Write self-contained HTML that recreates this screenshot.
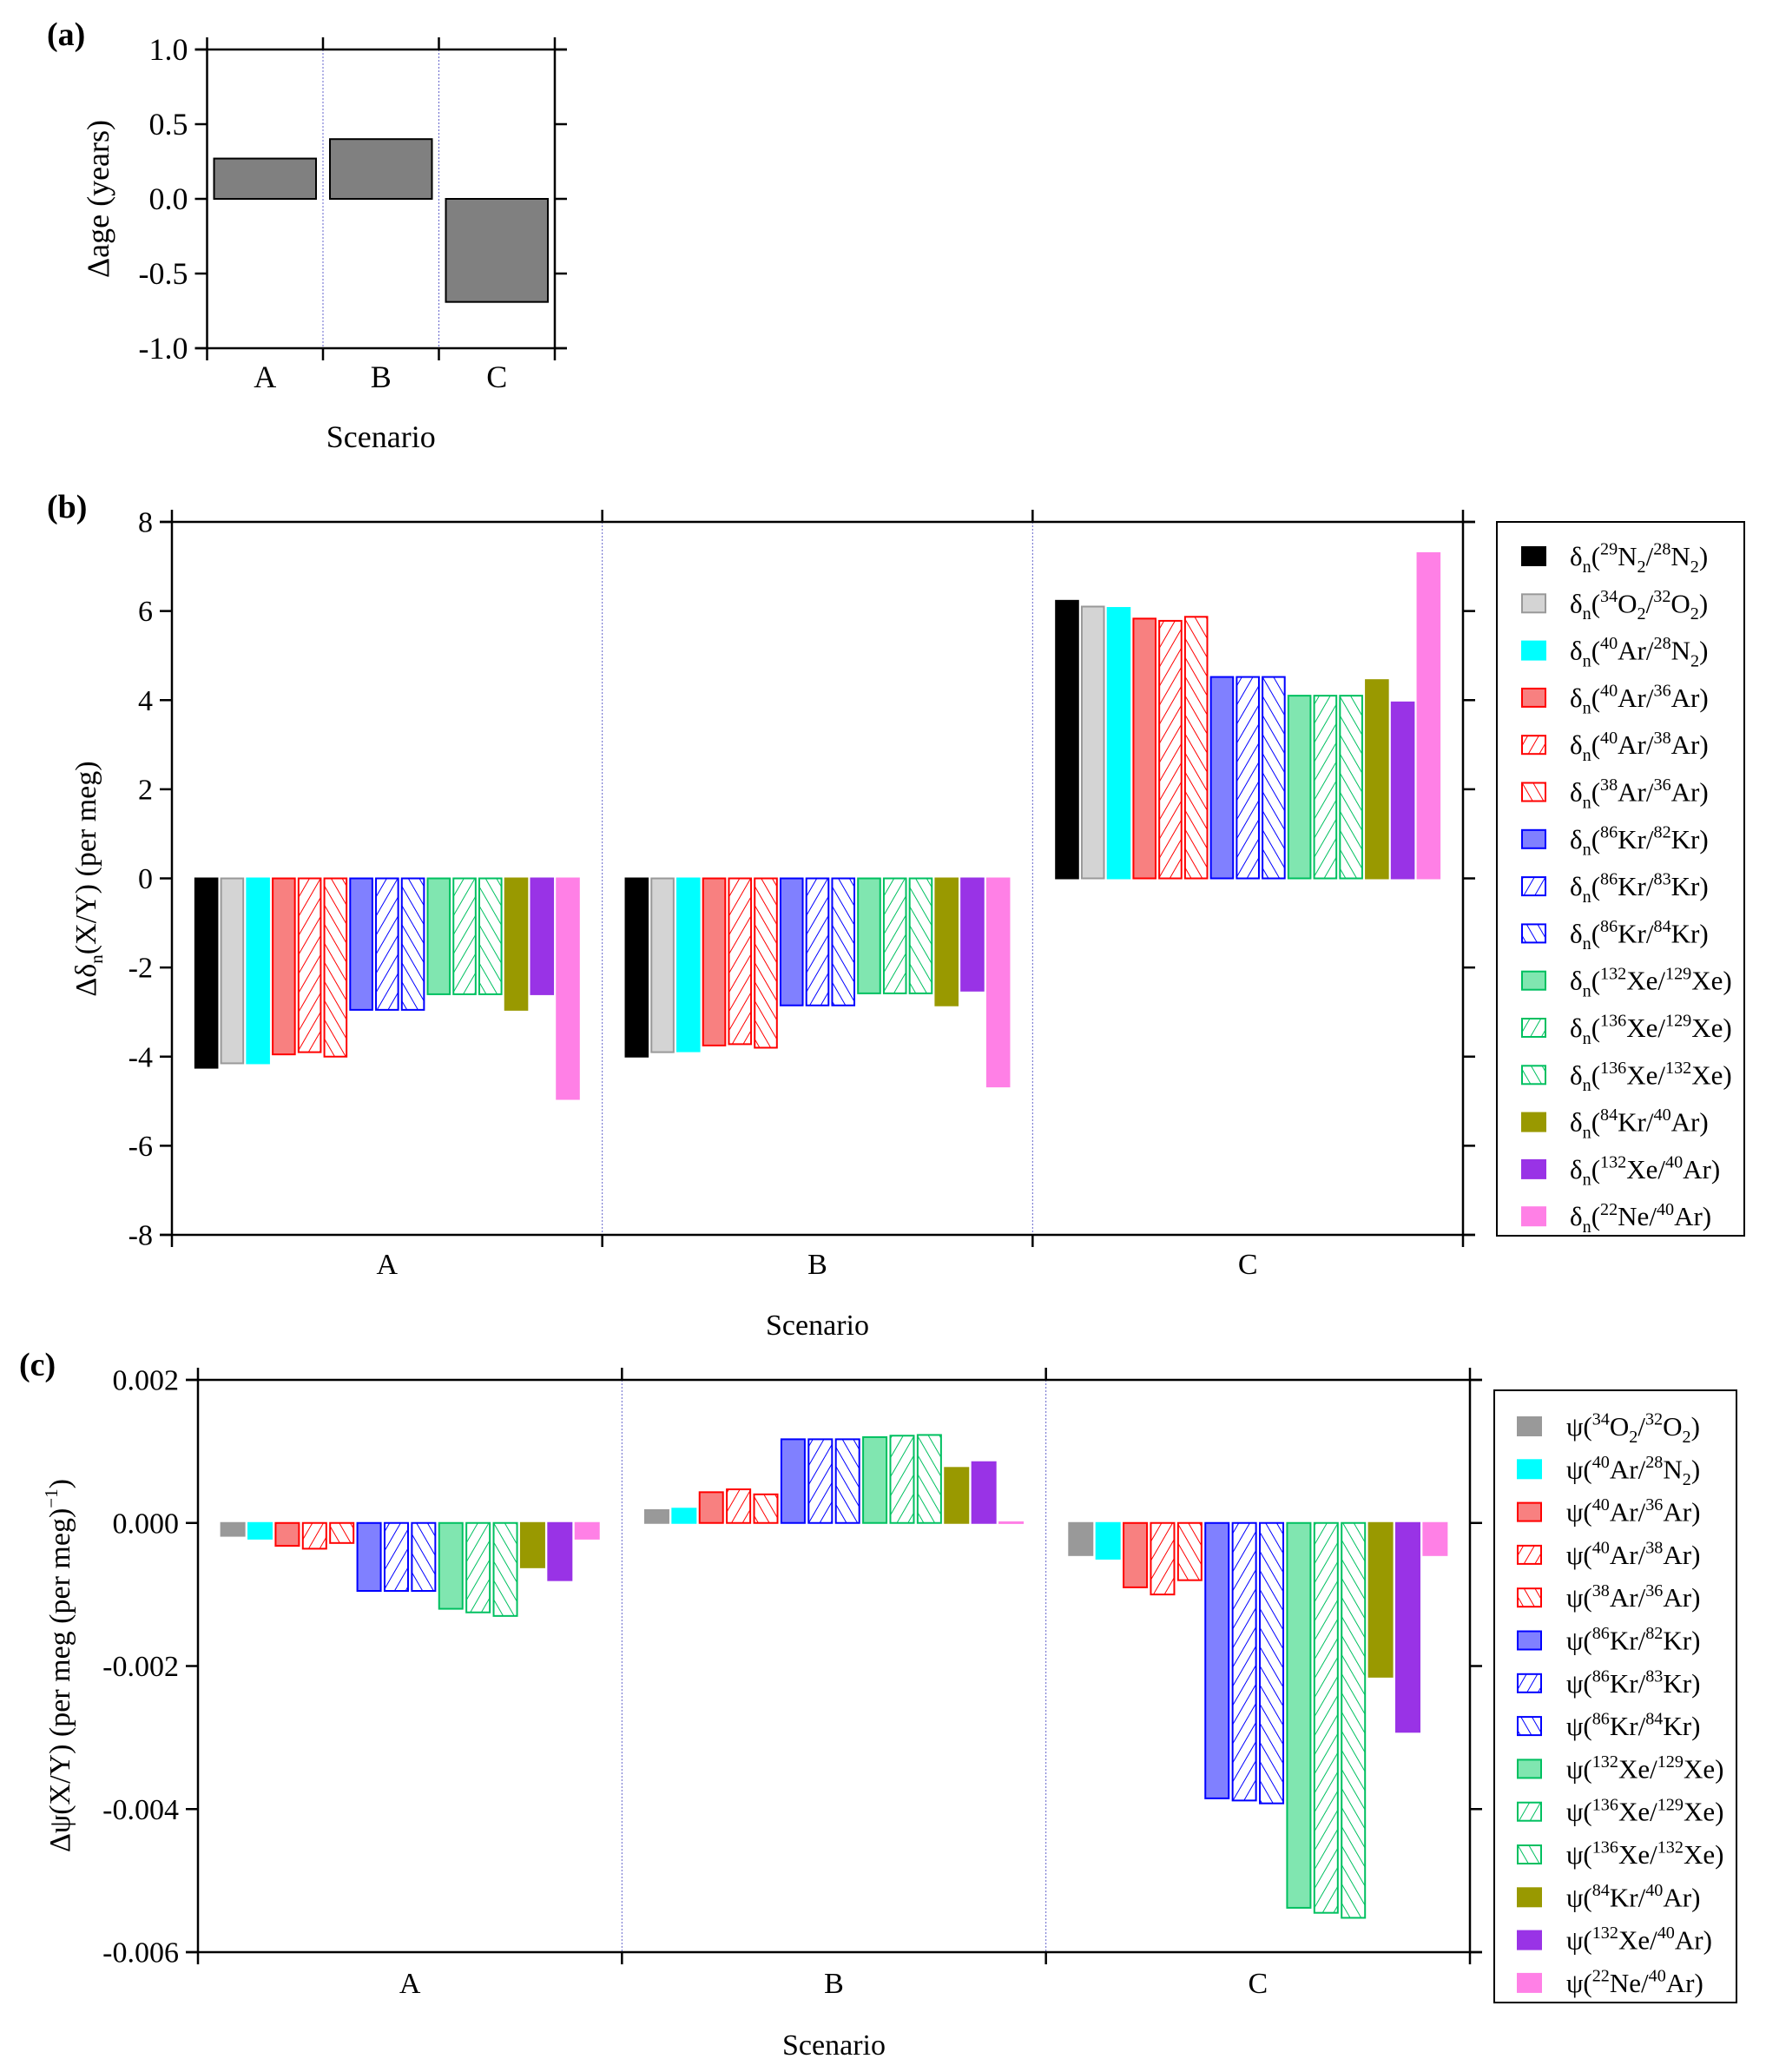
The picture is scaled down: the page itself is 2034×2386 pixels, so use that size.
<!DOCTYPE html>
<html><head><meta charset="utf-8">
<style>
html,body{margin:0;padding:0;background:#fff;}
svg{display:block;font-family:"Liberation Serif",serif;}
</style></head>
<body>
<svg id="fig" xmlns="http://www.w3.org/2000/svg" width="2034" height="2386" viewBox="0 0 2034 2386">
<defs>
<pattern id="hr-fwd" patternUnits="userSpaceOnUse" width="11" height="11" patternTransform="rotate(30)"><rect width="11" height="11" fill="#fff"/><line x1="0" y1="0" x2="0" y2="11" stroke="#ff0000" stroke-width="2"/></pattern>
<pattern id="hr-back" patternUnits="userSpaceOnUse" width="11" height="11" patternTransform="rotate(-30)"><rect width="11" height="11" fill="#fff"/><line x1="0" y1="0" x2="0" y2="11" stroke="#ff0000" stroke-width="2"/></pattern>
<pattern id="hb-fwd" patternUnits="userSpaceOnUse" width="11" height="11" patternTransform="rotate(30)"><rect width="11" height="11" fill="#fff"/><line x1="0" y1="0" x2="0" y2="11" stroke="#0000ff" stroke-width="2"/></pattern>
<pattern id="hb-back" patternUnits="userSpaceOnUse" width="11" height="11" patternTransform="rotate(-30)"><rect width="11" height="11" fill="#fff"/><line x1="0" y1="0" x2="0" y2="11" stroke="#0000ff" stroke-width="2"/></pattern>
<pattern id="hg-fwd" patternUnits="userSpaceOnUse" width="11" height="11" patternTransform="rotate(30)"><rect width="11" height="11" fill="#fff"/><line x1="0" y1="0" x2="0" y2="11" stroke="#00c060" stroke-width="2"/></pattern>
<pattern id="hg-back" patternUnits="userSpaceOnUse" width="11" height="11" patternTransform="rotate(-30)"><rect width="11" height="11" fill="#fff"/><line x1="0" y1="0" x2="0" y2="11" stroke="#00c060" stroke-width="2"/></pattern>
</defs>
<g id="root"></g>
</svg>
<script>
// ---------- data ----------
const scenarios = ['A','B','C'];
const ageValues = [0.27, 0.40, -0.69];
const ageTicks = [1.0, 0.5, 0.0, -0.5, -1.0];
const ageTickLabels = ['1.0','0.5','0.0','-0.5','-1.0'];

const deltaSeries = ['^29N_2/^28N_2','^34O_2/^32O_2','^40Ar/^28N_2','^40Ar/^36Ar','^40Ar/^38Ar','^38Ar/^36Ar','^86Kr/^82Kr','^86Kr/^83Kr','^86Kr/^84Kr','^132Xe/^129Xe','^136Xe/^129Xe','^136Xe/^132Xe','^84Kr/^40Ar','^132Xe/^40Ar','^22Ne/^40Ar'];
const deltaA = [-4.25,-4.15,-4.15,-3.95,-3.9,-4.0,-2.95,-2.95,-2.95,-2.6,-2.6,-2.6,-2.95,-2.6,-4.95];
const deltaB = [-4.0,-3.9,-3.88,-3.75,-3.72,-3.8,-2.85,-2.85,-2.85,-2.58,-2.58,-2.58,-2.85,-2.52,-4.67];
const deltaC = [6.23,6.1,6.07,5.83,5.78,5.87,4.52,4.52,4.52,4.1,4.1,4.1,4.45,3.95,7.3];
const deltaTicks = [8,6,4,2,0,-2,-4,-6,-8];
const deltaTickLabels = ['8','6','4','2','0','-2','-4','-6','-8'];

const psiSeries = ['^34O_2/^32O_2','^40Ar/^28N_2','^40Ar/^36Ar','^40Ar/^38Ar','^38Ar/^36Ar','^86Kr/^82Kr','^86Kr/^83Kr','^86Kr/^84Kr','^132Xe/^129Xe','^136Xe/^129Xe','^136Xe/^132Xe','^84Kr/^40Ar','^132Xe/^40Ar','^22Ne/^40Ar'];
const psiA = [-0.00018,-0.00022,-0.00032,-0.00036,-0.00028,-0.00095,-0.00095,-0.00095,-0.0012,-0.00125,-0.0013,-0.00062,-0.0008,-0.00022];
const psiB = [0.00018,0.0002,0.00043,0.00047,0.0004,0.00117,0.00117,0.00117,0.0012,0.00122,0.00123,0.00077,0.00085,0.00001];
const psiC = [-0.00045,-0.0005,-0.0009,-0.001,-0.0008,-0.00385,-0.00388,-0.00392,-0.00538,-0.00545,-0.00552,-0.00215,-0.00292,-0.00045];
const psiTicks = [0.002,0,-0.002,-0.004,-0.006];
const psiTickLabels = ['0.002','0.000','-0.002','-0.004','-0.006'];

// styles (not data)
const deltaStyles = [
 {f:'#000000',s:'#000000'},{f:'#d4d4d4',s:'#999999'},{f:'#00ffff',s:'#00ffff'},
 {f:'#f88080',s:'#ff0000'},{f:'url(#hr-fwd)',s:'#ff0000'},{f:'url(#hr-back)',s:'#ff0000'},
 {f:'#8080ff',s:'#0000ff'},{f:'url(#hb-fwd)',s:'#0000ff'},{f:'url(#hb-back)',s:'#0000ff'},
 {f:'#80e6b0',s:'#00c060'},{f:'url(#hg-fwd)',s:'#00c060'},{f:'url(#hg-back)',s:'#00c060'},
 {f:'#999900',s:'#999900'},{f:'#9933e6',s:'#9933e6'},{f:'#ff80e6',s:'#ff80e6'}];
const psiStyles = [{f:'#999999',s:'#999999'}].concat(deltaStyles.slice(2));

const NS='http://www.w3.org/2000/svg';
const root=document.getElementById('root');
function mk(tag,attrs,parent){const e=document.createElementNS(NS,tag);for(const k in attrs)e.setAttribute(k,attrs[k]);(parent||root).appendChild(e);return e;}

function axes(p){
  const g=mk('g',{});
  
  
  const ys=v=>p.y0+(p.vmax-v)/(p.vmax-p.vmin)*(p.y1-p.y0);
  const gw=(p.x1-p.x0)/3;
  for(let i=1;i<3;i++){const x=p.x0+i*gw;
    const l=mk('line',{x1:x,y1:p.y0,x2:x,y2:p.y1,stroke:'#6666cc','stroke-width':1,'stroke-dasharray':'2,2'},g);
    
    }
  mk('line',{x1:p.x0-p.tk,y1:p.y0,x2:p.x1+p.tk,y2:p.y0,stroke:'#000','stroke-width':2.5},g);
  mk('line',{x1:p.x0-p.tk,y1:p.y1,x2:p.x1+p.tk,y2:p.y1,stroke:'#000','stroke-width':2.5},g);
  mk('line',{x1:p.x0,y1:p.y0-p.tk,x2:p.x0,y2:p.y1+p.tk,stroke:'#000','stroke-width':2.5},g);
  mk('line',{x1:p.x1,y1:p.y0-p.tk,x2:p.x1,y2:p.y1+p.tk,stroke:'#000','stroke-width':2.5},g);
  for(let i=1;i<3;i++){const x=p.x0+i*gw;
    mk('line',{x1:x,y1:p.y0-p.tk,x2:x,y2:p.y0,stroke:'#000','stroke-width':2.5},g);
    mk('line',{x1:x,y1:p.y1,x2:x,y2:p.y1+p.tk,stroke:'#000','stroke-width':2.5},g);}
  p.ticks.forEach((v,i)=>{const y=ys(v);
    mk('line',{x1:p.x0-p.tk,y1:y,x2:p.x0,y2:y,stroke:'#000','stroke-width':2.5},g);
    mk('line',{x1:p.x1,y1:y,x2:p.x1+p.tk,y2:y,stroke:'#000','stroke-width':2.5},g);
    const t=mk('text',{x:p.x0-p.tk-8,y:y+p.fs*0.34,'font-size':p.fs,'text-anchor':'end'},g);
    t.textContent=p.tickLabels[i];
    
    });
  scenarios.forEach((s,i)=>{const t=mk('text',{x:p.x0+(i+0.5)*gw,y:p.catY,'font-size':p.fs,'text-anchor':'middle'},g);
    t.textContent=s;
    
    });
  const xt=mk('text',{x:(p.x0+p.x1)/2,y:p.titleY,'font-size':p.fs,'text-anchor':'middle'},g);
  xt.textContent='Scenario';
  
  
  const pl=mk('text',{x:p.lblX,y:p.lblY,'font-size':38,'font-weight':'bold'},g);
  pl.textContent=p.label;
  
  
  return ys;
}

function richLabel(parent,x,y,prefix,sub,spec,fs){
  const t=mk('text',{x:x,y:y,'font-size':fs},parent);
  const add=(txt,size,dy)=>{const s=mk('tspan',{'font-size':size,dy:dy},t);s.textContent=txt;};
  add(prefix,fs,0); let off=0;
  if(sub){add(sub,fs*0.65,fs*0.25);off=fs*0.25;}
  add('(',fs,-off);off=0;
  const parts=spec.split('/');
  parts.forEach((part,pi)=>{
    const m=part.match(/^\^(\d+)([A-Za-z]+)(?:_(\d))?$/);
    add(m[1],fs*0.65,-fs*0.4-off);off=-fs*0.4;
    add(m[2],fs,-off);off=0;
    if(m[3]){add(m[3],fs*0.65,fs*0.25);off=fs*0.25;}
    if(pi===0){add('/',fs,-off);off=0;}
  });
  add(')',fs,-off);
  return t;
}

function barPanel(p,groups,styles,series,prefix,sub){
  const ys=axes(p);
  const gw=(p.x1-p.x0)/3, n=series.length, slot=gw*0.9/n, bw=slot*0.86;
  const y0v=ys(0);
  groups.forEach((vals,gi)=>{
    vals.forEach((v,si)=>{
      const x=p.x0+gi*gw+gw*0.05+si*slot+(slot-bw)/2;
      const y=ys(v);
      const r=mk('rect',{x:x,y:Math.min(y,y0v),width:bw,height:Math.max(1,Math.abs(y-y0v)),fill:styles[si].f,stroke:styles[si].s,'stroke-width':2});
      
      
    });
  });
  const lg=mk('g',{});
  
  
  const L=p.leg;
  mk('rect',{x:L.x0,y:L.y0,width:L.x1-L.x0,height:L.y1-L.y0,fill:'#fff',stroke:'#000','stroke-width':2},lg);
  series.forEach((s,i)=>{
    const cy=L.first+i*L.step;
    const e=mk('g',{},lg);
    
    
    mk('rect',{x:L.sx,y:cy-10,width:27,height:21,fill:styles[i].f,stroke:styles[i].s,'stroke-width':2},e);
    richLabel(e,L.tx,cy+11,prefix,sub,s,31);
  });
}

function rotLabel(x,y,build,name){
  const g=mk('g',{transform:'translate('+x+','+y+') rotate(-90)'});
  
  
  build(g);
}

// ---------- panel a ----------
(function(){
  const p={name:'panel-a',x0:238.5,x1:639,y0:57,y1:401,vmin:-1,vmax:1,tk:14,fs:36,ticks:ageTicks,tickLabels:ageTickLabels,catY:446,titleY:515,lblX:54,lblY:52,label:'(a)'};
  const ys=axes(p);
  const gw=(p.x1-p.x0)/3,bw=gw*0.88;
  ageValues.forEach((v,i)=>{
    const x=p.x0+i*gw+(gw-bw)/2,y=ys(v),y0=ys(0);
    const r=mk('rect',{x:x,y:Math.min(y,y0),width:bw,height:Math.abs(y-y0),fill:'#808080',stroke:'#000','stroke-width':2});
    
    
  });
  rotLabel(125,229,g=>{const t=mk('text',{x:0,y:0,'font-size':36,'text-anchor':'middle'},g);t.textContent='Δage (years)';},'y-axis-title');
})();

// ---------- panel b ----------
barPanel({name:'panel-b',x0:198,x1:1685,y0:601,y1:1422,vmin:-8,vmax:8,tk:14,fs:34,ticks:deltaTicks,tickLabels:deltaTickLabels,catY:1467,titleY:1537,lblX:54,lblY:596,label:'(b)',
  leg:{x0:1724,x1:2009,y0:601,y1:1423,first:640,step:54.3,sx:1753,tx:1808}},
  [deltaA,deltaB,deltaC],deltaStyles,deltaSeries,'δ','n');
rotLabel(110,1012,g=>{const t=mk('text',{x:0,y:0,'font-size':34,'text-anchor':'middle'},g);
  const a=mk('tspan',{},t);a.textContent='Δδ';const b=mk('tspan',{'font-size':21,dy:8},t);b.textContent='n';const c=mk('tspan',{dy:-8},t);c.textContent='(X/Y) (per meg)';},'y-axis-title');

// ---------- panel c ----------
barPanel({name:'panel-c',x0:228,x1:1693,y0:1589,y1:2248,vmin:-0.006,vmax:0.002,tk:14,fs:34,ticks:psiTicks,tickLabels:psiTickLabels,catY:2295,titleY:2366,lblX:22,lblY:1584,label:'(c)',
  leg:{x0:1721,x1:2000,y0:1601,y1:2306,first:1642,step:49.3,sx:1748,tx:1804}},
  [psiA,psiB,psiC],psiStyles,psiSeries,'ψ','');
rotLabel(80,1918,g=>{const t=mk('text',{x:0,y:0,'font-size':34,'text-anchor':'middle'},g);
  const a=mk('tspan',{},t);a.textContent='Δψ(X/Y) (per meg (per meg)';const b=mk('tspan',{'font-size':21,dy:-14},t);b.textContent='−1';const c=mk('tspan',{dy:14},t);c.textContent=')';},'y-axis-title');
</script>
</body></html>
